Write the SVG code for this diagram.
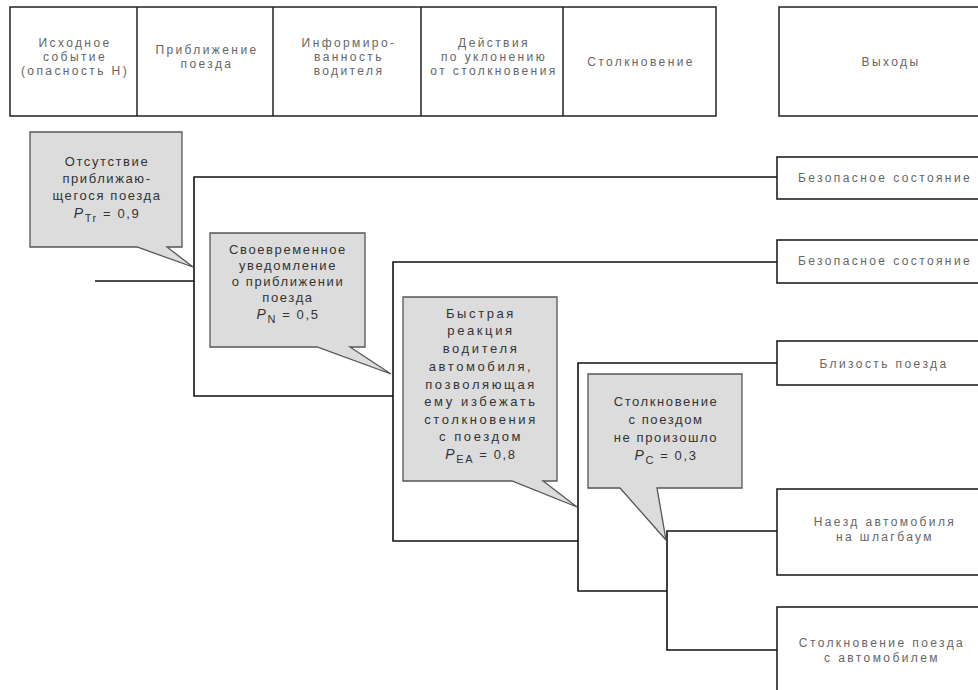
<svg xmlns="http://www.w3.org/2000/svg" width="978" height="690" viewBox="0 0 978 690">
<style>
.hdr{fill:none;stroke:#222;stroke-width:1.5}
.ht{font-family:"Liberation Sans",Arial,sans-serif;font-size:12px;letter-spacing:2.4px;fill:#666;text-anchor:middle}
.line{fill:none;stroke:#111;stroke-width:1.6}
.out{fill:#fff;stroke:#222;stroke-width:1.6}
.ot{font-family:"Liberation Sans",Arial,sans-serif;font-size:12px;letter-spacing:2.4px;fill:#666;text-anchor:middle}
.call{fill:#dcdcdc;stroke:#555;stroke-width:1.3}
.ct{font-family:"Liberation Sans",Arial,sans-serif;font-size:13px;letter-spacing:1.6px;fill:#333;text-anchor:middle}
.ct3{letter-spacing:2.6px}
.p{font-style:italic;font-size:14px}
.sub{font-size:11px}
</style>
<rect width="978" height="690" fill="#fff"/>
<g id="header">
<rect class="hdr" x="10" y="7" width="706" height="109"/>
<line class="hdr" x1="137" y1="7" x2="137" y2="116"/>
<line class="hdr" x1="273" y1="7" x2="273" y2="116"/>
<line class="hdr" x1="421" y1="7" x2="421" y2="116"/>
<line class="hdr" x1="563" y1="7" x2="563" y2="116"/>
<text class="ht" x="75" y="47">Исходное</text>
<text class="ht" x="75" y="61">событие</text>
<text class="ht" x="75" y="75">(опасность Н)</text>
<text class="ht" x="207" y="54">Приближение</text>
<text class="ht" x="207" y="68">поезда</text>
<text class="ht" x="349" y="47">Информиро-</text>
<text class="ht" x="349" y="61">ванность</text>
<text class="ht" x="349" y="75">водителя</text>
<text class="ht" x="494" y="47">Действия</text>
<text class="ht" x="494" y="61">по уклонению</text>
<text class="ht" x="494" y="75">от столкновения</text>
<text class="ht" x="641" y="66">Столкновение</text>
</g>
<g id="outputs-header">
<rect class="hdr" x="779" y="7" width="215" height="109"/>
<text class="ht" x="891" y="66">Выходы</text>
</g>
<g id="connectors">
<polyline class="line" points="95,281 194,281"/>
<polyline class="line" points="777,177 194,177 194,396 393,396"/>
<polyline class="line" points="777,262 393,262 393,541 578,541"/>
<polyline class="line" points="777,363 578,363 578,591 667,591"/>
<polyline class="line" points="777,531 667,531 667,650 777,650"/>
</g>
<g id="out1">
<rect class="out" x="777" y="157" width="215" height="42"/>
<text class="ot" x="885" y="182">Безопасное состояние</text>
</g>
<g id="out2">
<rect class="out" x="777" y="240" width="215" height="43"/>
<text class="ot" x="885" y="265">Безопасное состояние</text>
</g>
<g id="out3">
<rect class="out" x="777" y="341" width="215" height="44"/>
<text class="ot" x="884" y="368">Близость поезда</text>
</g>
<g id="out4">
<rect class="out" x="777" y="489" width="215" height="86"/>
<text class="ot" x="885" y="526">Наезд автомобиля</text>
<text class="ot" x="885" y="541">на шлагбаум</text>
</g>
<g id="out5">
<rect class="out" x="777" y="607" width="215" height="100"/>
<text class="ot" x="882" y="647">Столкновение поезда</text>
<text class="ot" x="882" y="662">с автомобилем</text>
</g>
<g id="call1">
<path class="call" d="M30,132 H182 V247 H167 L193,267 L137,247 H30 Z"/>
<text class="ct" x="107" y="166">Отсутствие</text>
<text class="ct" x="107" y="183">приближаю-</text>
<text class="ct" x="107" y="200">щегося поезда</text>
<text class="ct" x="107" y="218"><tspan class="p">P</tspan><tspan class="sub" dy="4">Tr</tspan><tspan dy="-4"> = 0,9</tspan></text>
</g>
<g id="call2">
<path class="call" d="M210,233 H365 V347 H350 L391,374 L317,347 H210 Z"/>
<text class="ct" x="288" y="254">Своевременное</text>
<text class="ct" x="288" y="270">уведомление</text>
<text class="ct" x="288" y="286">о приближении</text>
<text class="ct" x="288" y="302">поезда</text>
<text class="ct" x="288" y="319"><tspan class="p">P</tspan><tspan class="sub" dy="4">N</tspan><tspan dy="-4"> = 0,5</tspan></text>
</g>
<g id="call3">
<path class="call" d="M403,297 H557 V481 H543 L577,507 L512,481 H403 Z"/>
<text class="ct ct3" x="481" y="318">Быстрая</text>
<text class="ct ct3" x="481" y="335">реакция</text>
<text class="ct ct3" x="481" y="353">водителя</text>
<text class="ct ct3" x="481" y="371">автомобиля,</text>
<text class="ct ct3" x="481" y="389">позволяющая</text>
<text class="ct ct3" x="481" y="406">ему избежать</text>
<text class="ct ct3" x="481" y="424">столкновения</text>
<text class="ct ct3" x="481" y="441">с поездом</text>
<text class="ct" x="481" y="459"><tspan class="p">P</tspan><tspan class="sub" dy="4">EA</tspan><tspan dy="-4"> = 0,8</tspan></text>
</g>
<g id="call4">
<path class="call" d="M588,374 H742 V488 H657 L666,540 L620,488 H588 Z"/>
<text class="ct" x="666" y="406">Столкновение</text>
<text class="ct" x="666" y="424">с поездом</text>
<text class="ct" x="666" y="442">не произошло</text>
<text class="ct" x="666" y="460"><tspan class="p">P</tspan><tspan class="sub" dy="4">C</tspan><tspan dy="-4"> = 0,3</tspan></text>
</g>
</svg>
